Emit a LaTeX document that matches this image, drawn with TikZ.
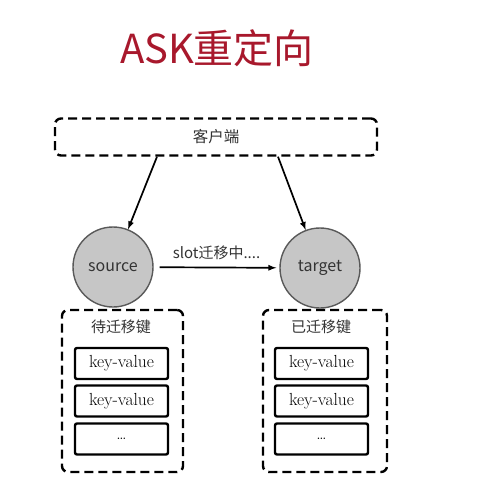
\documentclass[tikz,border=0pt]{standalone}
\usepackage{fontspec}
\newfontfamily\cjk{Noto Sans CJK SC}
\usetikzlibrary{positioning}
\definecolor{MyRed}{HTML}{A8182C}
\definecolor{MyGray}{HTML}{C6C6C6}
\definecolor{MyDark}{HTML}{333333}
\tikzset{
  dashbox/.style={draw, line width=2.4pt, dash pattern=on 9pt off 5pt, rounded corners=6pt},
  kvbox/.style={draw, line width=2.4pt, rounded corners=2pt, minimum width=93pt, minimum height=31pt, font=\fontsize{17.5}{17.5}\selectfont},
  redis/.style={circle, draw=gray!70!black, line width=1.4pt, fill=MyGray, minimum size=80pt, inner sep=0pt, text=MyDark, font=\cjk\fontsize{16}{16}\selectfont},
  arrow/.style={-latex, line width=1.7pt}
}
\begin{document}
\begin{tikzpicture}[x=1pt, y=-1pt]
		\useasboundingbox[fill=white] (0,0) rectangle (480,491);
		
		\node[text=MyRed, font=\cjk\fontsize{40}{40}\selectfont] (title) at (217,48) {ASK重定向};
		
		\node[dashbox, minimum width=322pt, minimum height=37pt, text=MyDark, font=\cjk\fontsize{15.5}{15.5}\selectfont] (client) at (216,137) {客户端};
		
		\node[redis] (source) at (113,267) {source};
		\node[redis] (target) at (320,268) {target};
		
		\draw[arrow] ([xshift=-59pt]client.south) -- (source);
		\draw[arrow] ([xshift=62pt]client.south) -- (target);
		
		\draw[arrow, shorten <=6pt, shorten >=3pt] (source) -- (target) node [midway, above=4pt, text=MyDark, font=\cjk\fontsize{15}{15}\selectfont] (migrate) {slot迁移中....};
		
		% moving keys
		\node[dashbox, minimum width=121pt, minimum height=162pt] (srckeys) at (122.5,391) {};
		\node[text=MyDark, font=\cjk\fontsize{15}{15}\selectfont] (srctitle) at (121,327) {待迁移键};
		\node[kvbox] (srckv1) at (121.5,363.5) {key-value};
		\node[kvbox] (srckv2) at (121.5,401) {key-value};
		\node[kvbox] (srckv3) at (121.5,439) {\dots};
		
		% moved keys
		\node[dashbox, minimum width=124pt, minimum height=162pt] (dstkeys) at (325,391) {};
		\node[text=MyDark, font=\cjk\fontsize{15}{15}\selectfont] (dsttitle) at (321,327) {已迁移键};
		\node[kvbox] (dstkv1) at (321.5,363.5) {key-value};
		\node[kvbox] (dstkv2) at (321.5,401) {key-value};
		\node[kvbox] (dstkv3) at (321.5,439) {\dots};
\end{tikzpicture}
\end{document}
